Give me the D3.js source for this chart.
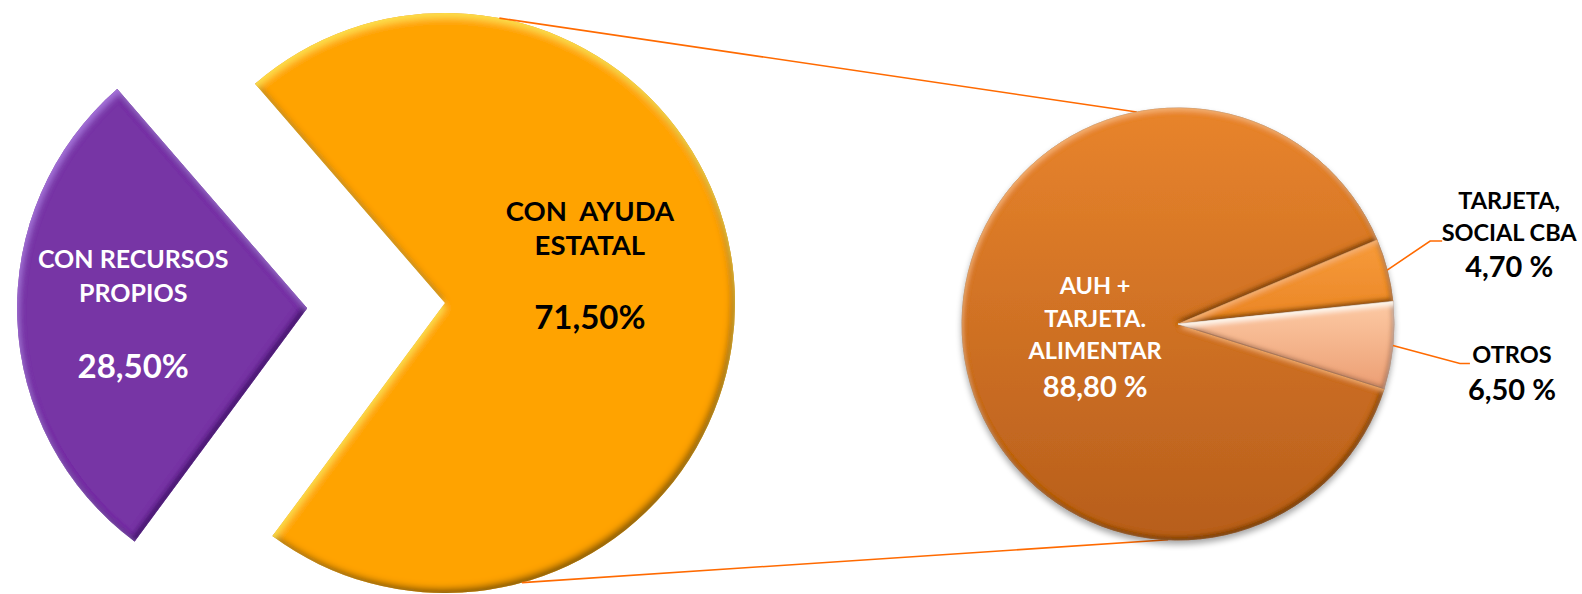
<!DOCTYPE html>
<html>
<head>
<meta charset="utf-8">
<script src="https://cdn.jsdelivr.net/npm/d3@7"></script>
<style>
body{margin:0;background:#fff;}
svg text{font-family:Lato,"Open Sans",sans-serif;font-weight:bold;}
</style>
</head>
<body>
<div class="c_chart"></div>
<script>

/*DATA
------------------------------------------------------
*/
const mainCats = ["CON RECURSOS PROPIOS", "CON  AYUDA ESTATAL"];
const mainVals = [28.5, 71.5];
const mainLabels = [["CON RECURSOS", "PROPIOS"], ["CON  AYUDA", "ESTATAL"]];
const mainPct = ["28,50%", "71,50%"];

const subCats = ["AUH + TARJETA. ALIMENTAR", "TARJETA, SOCIAL CBA", "OTROS"];
const subVals = [88.8, 4.7, 6.5];
const subLabels = [["AUH +", "TARJETA.", "ALIMENTAR"], ["TARJETA,", "SOCIAL CBA"], ["OTROS"]];
const subPct = ["88,80 %", "4,70 %", "6,50 %"];

/*SVG, FORMAT
------------------------------------------------------
*/
const width = 1582, height = 594;
const deg = Math.PI / 180;

let svg = d3.select(".c_chart")
	.append("svg")
	.attr("width", width)
	.attr("height", height);

const defs = svg.append("defs");

// bevel look: inner shadows, dark on one side and light on the other
function bevel(id, dark, light, dOff, lOff, blur, rim) {
	let f = defs.append("filter").attr("id", id)
		.attr("x", "-10%").attr("y", "-10%").attr("width", "120%").attr("height", "120%");
	f.append("feComponentTransfer").attr("in", "SourceAlpha").attr("result", "inv")
		.append("feFuncA").attr("type", "table").attr("tableValues", "1 0");
	f.append("feGaussianBlur").attr("in", "inv").attr("stdDeviation", blur).attr("result", "invBlur");
	// rim all round
	f.append("feFlood").attr("flood-color", dark).attr("flood-opacity", rim).attr("result", "rimCol");
	f.append("feComposite").attr("in", "rimCol").attr("in2", "invBlur").attr("operator", "in").attr("result", "rimA");
	f.append("feComposite").attr("in", "rimA").attr("in2", "SourceAlpha").attr("operator", "in").attr("result", "rim");
	// dark side
	f.append("feOffset").attr("in", "invBlur").attr("dx", dOff[0]).attr("dy", dOff[1]).attr("result", "dOff");
	f.append("feFlood").attr("flood-color", dark).attr("result", "dCol");
	f.append("feComposite").attr("in", "dCol").attr("in2", "dOff").attr("operator", "in").attr("result", "dA");
	f.append("feComposite").attr("in", "dA").attr("in2", "SourceAlpha").attr("operator", "in").attr("result", "darkS");
	// light side
	f.append("feOffset").attr("in", "invBlur").attr("dx", lOff[0]).attr("dy", lOff[1]).attr("result", "lOff");
	f.append("feFlood").attr("flood-color", light).attr("result", "lCol");
	f.append("feComposite").attr("in", "lCol").attr("in2", "lOff").attr("operator", "in").attr("result", "lA");
	f.append("feComposite").attr("in", "lA").attr("in2", "SourceAlpha").attr("operator", "in").attr("result", "lightS");
	let m = f.append("feMerge");
	["SourceGraphic", "rim", "darkS", "lightS"].forEach(n => m.append("feMergeNode").attr("in", n));
}

bevel("bvPurple", "#3a1262", "#a774dc", [-3, -3], [1.5, 3.5], 3, 0.4);
bevel("bvOrange", "#7d5200", "#ffe04a", [-3.5, -4], [1, 5], 3.5, 0.3);
bevel("bvSub", "#6e3a0e", "#f7b272", [-2, -3], [0.5, 3], 2.5, 0.25);
bevel("bvPeach", "#9b6244", "#fff8ee", [-2, -2.5], [0.5, 4], 2.5, 0.2);

let shadow = defs.append("filter").attr("id", "shadow")
	.attr("x", "-10%").attr("y", "-10%").attr("width", "120%").attr("height", "125%");
shadow.append("feGaussianBlur").attr("in", "SourceAlpha").attr("stdDeviation", 3).attr("result", "b");
shadow.append("feOffset").attr("in", "b").attr("dy", 4).attr("result", "o");
shadow.append("feComponentTransfer").attr("in", "o").attr("result", "s")
	.append("feFuncA").attr("type", "linear").attr("slope", 0.35);
let sm = shadow.append("feMerge");
sm.append("feMergeNode").attr("in", "s");
sm.append("feMergeNode").attr("in", "SourceGraphic");

/*GEOMETRY
------------------------------------------------------
*/
const mainC = [445, 303], mainR = 290, explode = 138;
const subC = [1178, 324], subR = 216;

// gradients are in the sub pie's own coordinates (centre = 0,0)
function grad(id, c0, c1, y0, y1) {
	let g = defs.append("linearGradient").attr("id", id)
		.attr("gradientUnits", "userSpaceOnUse")
		.attr("x1", 0).attr("x2", 0).attr("y1", y0).attr("y2", y1);
	g.append("stop").attr("offset", 0).attr("stop-color", c0);
	g.append("stop").attr("offset", 1).attr("stop-color", c1);
}
grad("gAuh", "#e8842c", "#b75e1c", -subR, subR);
grad("gTar", "#f69a3a", "#ea8525", -80, 0);
grad("gOtr", "#fcc9a3", "#eda176", -20, 60);

const mainFill = ["#7735a5", "#ffa305"];
const mainFilter = ["url(#bvPurple)", "url(#bvOrange)"];
const mainText = ["#ffffff", "#000000"];
const subFill = ["url(#gAuh)", "url(#gTar)", "url(#gOtr)"];
const subFilter = ["url(#bvSub)", "url(#bvSub)", "url(#bvPeach)"];

/*MAIN PIE
------------------------------------------------------
*/
let mainPie = d3.pie().sort(null)
	.startAngle(216.5 * deg)
	.endAngle(576.5 * deg);
let mainArcs = mainPie(mainVals);
let arcMain = d3.arc().innerRadius(0).outerRadius(mainR);

function offsetOf(d, i) {
	if (i !== 0) return [0, 0];
	let a = (d.startAngle + d.endAngle) / 2;
	return [explode * Math.sin(a), -explode * Math.cos(a)];
}

let gMain = svg.append("g");
gMain.selectAll("path")
	.data(mainArcs)
	.enter()
	.append("path")
	.attr("d", arcMain)
	.attr("transform", (d, i) => {
		let o = offsetOf(d, i);
		return "translate(" + (mainC[0] + o[0]) + "," + (mainC[1] + o[1]) + ")";
	})
	.attr("fill", (d, i) => mainFill[i])
	.attr("filter", (d, i) => mainFilter[i]);

// label positions along each slice's bisector
const mainLabelR = [174, 145];
const mainLineDy = [[-47, -13], [-76, -42]];
const mainNameSize = [25, 27.5];
const mainPctDy = [63, 32];
const mainPctSize = [33, 33];

mainArcs.forEach((d, i) => {
	let o = offsetOf(d, i);
	let c = d3.arc().innerRadius(mainLabelR[i]).outerRadius(mainLabelR[i]).centroid(d);
	let x = mainC[0] + o[0] + c[0], y = mainC[1] + o[1] + c[1];
	let t = gMain.append("g").attr("fill", mainText[i]).attr("text-anchor", "middle");
	mainLabels[i].forEach((l, k) => {
		t.append("text").attr("x", x).attr("y", y + mainLineDy[i][k])
			.attr("font-size", mainNameSize[i]).style("white-space", "pre").text(l);
	});
	t.append("text").attr("x", x).attr("y", y + mainPctDy[i])
		.attr("font-size", mainPctSize[i]).text(mainPct[i]);
});

/*CONNECTOR LINES
------------------------------------------------------
*/
function onCircle(c, r, a) {
	return [c[0] + r * Math.sin(a * deg), c[1] - r * Math.cos(a * deg)];
}
const connectors = [
	[onCircle(mainC, mainR, 10.8), onCircle(subC, subR, -11)],
	[onCircle(mainC, mainR, 164.6), onCircle(subC, subR, 182.6)]
];
svg.append("g").selectAll("line")
	.data(connectors)
	.enter()
	.append("line")
	.attr("x1", d => d[0][0]).attr("y1", d => d[0][1])
	.attr("x2", d => d[1][0]).attr("y2", d => d[1][1])
	.attr("stroke", "#ff6a00")
	.attr("stroke-width", 1.6);

/*SUB PIE
------------------------------------------------------
*/
let subPie = d3.pie().sort(null)
	.startAngle(107.4 * deg)
	.endAngle(467.4 * deg);
let subArcs = subPie(subVals);
let arcSub = d3.arc().innerRadius(0).outerRadius(subR);

let gSub = svg.append("g").attr("transform", "translate(" + subC[0] + "," + subC[1] + ")");
let gSlices = gSub.append("g").attr("filter", "url(#shadow)");
gSlices.selectAll("path")
	.data(subArcs)
	.enter()
	.append("path")
	.attr("d", arcSub)
	.attr("fill", (d, i) => subFill[i])
	.attr("filter", (d, i) => subFilter[i])
	.attr("stroke", "#7a4a22")
	.attr("stroke-opacity", 0.55)
	.attr("stroke-width", 1);

// inside label for the big slice
{
	let d = subArcs[0];
	let c = d3.arc().innerRadius(83).outerRadius(83).centroid(d);
	let t = gSub.append("g").attr("fill", "#ffffff").attr("text-anchor", "middle");
	const dy = [-34, -1, 31];
	subLabels[0].forEach((l, k) => {
		t.append("text").attr("x", c[0]).attr("y", c[1] + dy[k]).attr("font-size", 23.5).text(l);
	});
	t.append("text").attr("x", c[0]).attr("y", c[1] + 69).attr("font-size", 29).text(subPct[0]);
}

// outside labels with leader lines
const leaderElbow = [null, [43, -29], [67, 18]];
const leaderEnd = [null, 12, 10];
const outTextDx = [null, 67, 42];
const outLineDy = [null, [-32, 0], [0]];
const outPctDy = [null, 36, 37];
const outNameSize = 23.5;
const outPctSize = 29;

subArcs.forEach((d, i) => {
	if (i === 0) return;
	let a = (d.startAngle + d.endAngle) / 2;
	let p0 = [subR * Math.sin(a), -subR * Math.cos(a)];
	let p1 = [p0[0] + leaderElbow[i][0], p0[1] + leaderElbow[i][1]];
	let p2 = [p1[0] + leaderEnd[i], p1[1]];
	gSub.append("path")
		.attr("d", d3.line()([p0, p1, p2]))
		.attr("fill", "none")
		.attr("stroke", "#ff6a00")
		.attr("stroke-width", 1.6);
	let x = p2[0] + outTextDx[i], y = p2[1];
	let t = gSub.append("g").attr("fill", "#000").attr("text-anchor", "middle");
	subLabels[i].forEach((l, k) => {
		t.append("text").attr("x", x).attr("y", y + outLineDy[i][k]).attr("font-size", outNameSize).text(l);
	});
	t.append("text").attr("x", x).attr("y", y + outPctDy[i]).attr("font-size", outPctSize).text(subPct[i]);
});

</script>
</body>
</html>
